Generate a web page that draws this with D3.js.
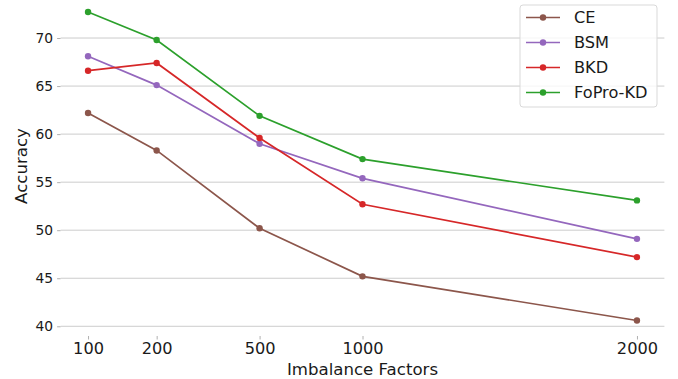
<!DOCTYPE html>
<html>
<head>
<meta charset="utf-8">
<script src="https://cdn.jsdelivr.net/npm/d3@7"></script>
<style>
  body { margin: 0; background: #fff; }
  svg { display: block; }
  svg text { font-family: "DejaVu Sans", sans-serif; fill: #1a1a1a; }
  .grid line { stroke: #cccccc; stroke-width: 1; }
  .tick line { stroke: #b0b0b0; }
</style>
</head>
<body>
<svg width="678" height="379"></svg>
<script>
// imbalance factors and where each sits on the (non-uniform) x axis
var factors = [100, 200, 500, 1000, 2000];
var slots = [0, 1, 2.5, 4, 8];

var yTicks = [40, 45, 50, 55, 60, 65, 70];

var ce     = [62.2, 58.3, 50.2, 45.2, 40.6];
var bsm    = [68.1, 65.1, 59.0, 55.4, 49.1];
var bkd    = [66.6, 67.4, 59.6, 52.7, 47.2];
var fopro  = [72.7, 69.8, 61.9, 57.4, 53.1];

var seriesNames = ["CE", "BSM", "BKD", "FoPro-KD"];
var colors = ["#8c564b", "#9467bd", "#d62728", "#2ca02c"];

var series = [ce, bsm, bkd, fopro].map(function(vals, i) {
    return { name: seriesNames[i], color: colors[i],
             pts: vals.map(function(v, j) { return { s: slots[j], v: v }; }) };
});

var svg = d3.select("svg"),
    plot = { left: 60.6, right: 664.4, top: -3.3, bottom: 336 };

var x = d3.scaleLinear().domain([-0.4, 8.4]).range([plot.left, plot.right]);
var y = d3.scaleLinear().domain([38.99, 74.3]).range([plot.bottom, plot.top]);

// horizontal grid
svg.append("g")
    .attr("class", "grid")
  .selectAll("line")
  .data(yTicks)
  .enter().append("line")
    .attr("x1", plot.left).attr("x2", plot.right)
    .attr("y1", function(d) { return y(d); })
    .attr("y2", function(d) { return y(d); });

// y axis (no spine)
var gy = svg.append("g")
    .attr("transform", "translate(" + plot.left + ",0)")
    .call(d3.axisLeft(y).tickValues(yTicks).tickSize(3.5).tickPadding(4));
gy.select(".domain").remove();
gy.selectAll("text").style("font-size", "13.8px");

// x axis (no spine)
var gx = svg.append("g")
    .attr("transform", "translate(0," + plot.bottom + ")")
    .call(d3.axisBottom(x).tickValues(slots)
        .tickFormat(function(d, i) { return factors[i]; })
        .tickSize(3.5).tickPadding(3));
gx.select(".domain").remove();
gx.selectAll("text").style("font-size", "16.2px");

// axis labels
svg.append("text")
    .attr("x", x(4)).attr("y", 375)
    .attr("text-anchor", "middle")
    .style("font-size", "16.6px")
    .text("Imbalance Factors");

svg.append("text")
    .attr("transform", "translate(27,166) rotate(-90)")
    .attr("text-anchor", "middle")
    .style("font-size", "16.6px")
    .text("Accuracy");

var line = d3.line()
    .x(function(d) { return x(d.s); })
    .y(function(d) { return y(d.v); });

var sg = svg.selectAll(".series")
    .data(series)
    .enter().append("g")
    .attr("class", "series");

sg.append("path")
    .attr("d", function(d) { return line(d.pts); })
    .attr("fill", "none")
    .attr("stroke", function(d) { return d.color; })
    .attr("stroke-width", 1.7);

sg.selectAll("circle")
    .data(function(d) { return d.pts.map(function(p) { return { p: p, c: d.color }; }); })
    .enter().append("circle")
    .attr("cx", function(d) { return x(d.p.s); })
    .attr("cy", function(d) { return y(d.p.v); })
    .attr("r", 3.2)
    .attr("fill", function(d) { return d.c; });

// legend
var lg = svg.append("g").attr("transform", "translate(520,5)");
lg.append("rect")
    .attr("width", 137).attr("height", 102)
    .attr("rx", 3)
    .attr("fill", "#fff").attr("fill-opacity", 0.8)
    .attr("stroke", "#d9d9d9");

var item = lg.selectAll(".item")
    .data(series)
    .enter().append("g")
    .attr("transform", function(d, i) { return "translate(0," + (12.5 + i * 25) + ")"; });

item.append("line")
    .attr("x1", 6).attr("x2", 40)
    .attr("stroke", function(d) { return d.color; })
    .attr("stroke-width", 1.7);
item.append("circle")
    .attr("cx", 23).attr("r", 3.2)
    .attr("fill", function(d) { return d.color; });
item.append("text")
    .attr("x", 54).attr("dy", "0.35em")
    .style("font-size", "16.2px")
    .text(function(d) { return d.name; });
</script>
</body>
</html>
